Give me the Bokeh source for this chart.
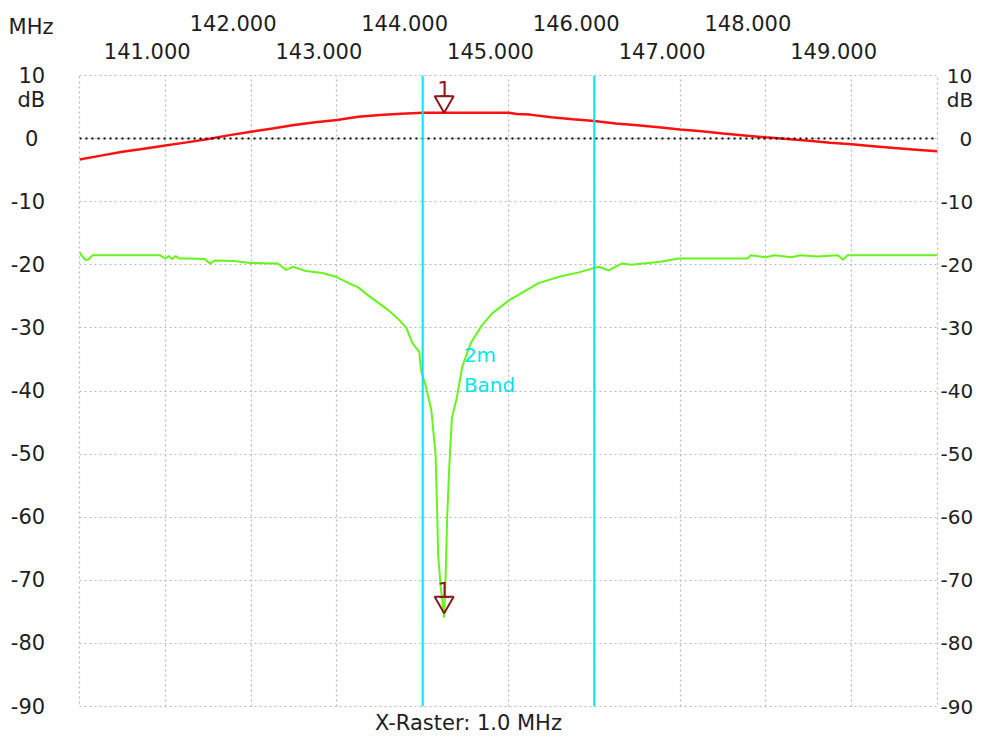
from bokeh.plotting import figure
from bokeh.models import (LinearAxis, FixedTicker, PrintfTickFormatter, Range1d,
                          Span)
from bokeh.embed import file_html
from bokeh.resources import INLINE
from bokeh.core.properties import value

# ---------------- data ----------------
red_f = [140.00, 140.25, 140.50, 140.75, 141.00, 141.25, 141.50, 141.75, 142.00,
         142.25, 142.50, 142.75, 143.00, 143.25, 143.50, 143.75, 144.00, 144.25,
         144.50, 144.75, 145.00, 145.10, 145.25, 145.50, 145.75, 146.00, 146.25,
         146.50, 146.75, 147.00, 147.25, 147.50, 147.75, 148.00, 148.25, 148.50,
         148.75, 149.00, 149.25, 149.50, 149.75, 150.00]
red_db = [-3.3, -2.7, -2.1, -1.6, -1.1, -0.6, -0.05, 0.55, 1.1,
          1.6, 2.15, 2.6, 2.95, 3.45, 3.75, 3.95, 4.1, 4.1,
          4.1, 4.1, 4.1, 3.9, 3.8, 3.4, 3.05, 2.8, 2.4,
          2.1, 1.8, 1.45, 1.15, 0.8, 0.5, 0.2, -0.05, -0.35,
          -0.65, -0.9, -1.2, -1.5, -1.75, -2.0]

green_f = [140.00, 140.03, 140.07, 140.10, 140.15, 140.94, 141.00, 141.04, 141.08,
           141.12, 141.16, 141.27, 141.46, 141.52, 141.58, 141.80, 141.99, 142.31,
           142.41, 142.49, 142.64, 142.83, 142.99, 143.15, 143.24, 143.38, 143.50,
           143.61, 143.73, 143.81, 143.88, 143.96, 143.98, 144.04, 144.10, 144.15,
           144.17, 144.18, 144.21, 144.25, 144.27, 144.285, 144.31, 144.34, 144.40,
           144.46, 144.56, 144.69, 144.81, 145.01, 145.35, 145.59, 145.82, 146.05,
           146.17, 146.25, 146.32, 146.43, 146.77, 146.98, 147.79, 147.82, 148.00,
           148.10, 148.30, 148.40, 148.60, 148.84, 148.90, 148.95, 150.00]
green_db = [-18.0, -18.6, -19.2, -19.2, -18.5, -18.5, -19.0, -18.6, -19.1,
            -18.6, -19.0, -19.0, -19.1, -19.8, -19.3, -19.4, -19.7, -19.8,
            -20.8, -20.3, -21.0, -21.3, -21.9, -23.0, -23.5, -25.0, -26.2,
            -27.3, -28.8, -30.0, -32.4, -33.8, -36.7, -39.4, -43.0, -50.0,
            -60.0, -66.0, -71.0, -75.9, -68.0, -60.0, -52.0, -44.3, -40.9,
            -36.2, -32.4, -29.6, -27.7, -25.6, -22.9, -21.9, -21.2, -20.3,
            -20.9, -20.3, -19.8, -20.0, -19.5, -19.0, -19.0, -18.5, -18.8,
            -18.5, -18.8, -18.5, -18.7, -18.5, -19.2, -18.5, -18.5]

band_edges = [144.0, 146.0]
band_text = ["2m", "Band"]
marker_f = [144.25, 144.25]
marker_db = [4.1, -75.2]
marker_text = ["1", "1"]

freq_odd = [141, 143, 145, 147, 149]
freq_even = [142, 144, 146, 148]
grid_f = list(range(140, 151))
db_ticks = list(range(-90, 11, 10))
x_unit = "MHz"
y_unit = "dB"
raster_text = "X-Raster: 1.0 MHz"

# ---------------- figure ----------------
W, H = 976, 737
ML, MR, MT, MB = 79, 36, 75, 30
FONT = "DejaVu Sans"
TXT = "#1e1e1e"
FS = "21px"

p = figure(width=W, height=H, x_range=(140, 150), y_range=(-90, 10),
           x_axis_location=None, y_axis_location=None,
           output_backend="svg", toolbar_location=None,
           min_border_left=ML, min_border_right=MR,
           min_border_top=MT, min_border_bottom=MB)
p.background_fill_color = "white"
p.border_fill_color = "white"
p.outline_line_color = "#b8b8b8"
p.outline_line_dash = "2 3"
p.outline_line_width = 1.2

frame_h = H - MT - MB
px_per_db = frame_h / 100.0

p.xgrid.ticker = FixedTicker(ticks=grid_f)
p.ygrid.ticker = FixedTicker(ticks=db_ticks)
p.grid.grid_line_color = "#b8b8b8"
p.grid.grid_line_dash = "2 3"
p.grid.grid_line_width = 1.2

# label offset range for the frequency captions
shift = 0.21
p.extra_x_ranges = {"lab": Range1d(140 + shift, 150 + shift)}

def style_axis(ax, standoff, fs=FS):
    ax.axis_line_color = None
    ax.major_tick_line_color = None
    ax.minor_tick_line_color = None
    ax.major_tick_in = 0
    ax.major_tick_out = 0
    ax.minor_tick_in = 0
    ax.minor_tick_out = 0
    ax.major_label_standoff = standoff
    ax.major_label_text_font = FONT
    ax.major_label_text_font_size = fs
    ax.major_label_text_color = TXT

ax_odd = LinearAxis(x_range_name="lab", ticker=FixedTicker(ticks=freq_odd),
                    formatter=PrintfTickFormatter(format="%.3f"))
style_axis(ax_odd, 17)
p.add_layout(ax_odd, "above")
ax_even = LinearAxis(x_range_name="lab", ticker=FixedTicker(ticks=freq_even),
                     formatter=PrintfTickFormatter(format="%.3f"))
style_axis(ax_even, 9)
p.add_layout(ax_even, "above")

# left dB axis (unit captions stacked with the top tick label)
pad = "\u2009\u2009"
left_over = {}
for t in db_ticks:
    left_over[t] = str(t) + pad
left_over[0] = "0\u2008" + pad
left_over[10] = "\n".join([x_unit, "\u2009", "10" + pad, y_unit + pad, "\u2009"])
ax_l = LinearAxis(ticker=FixedTicker(ticks=db_ticks),
                  major_label_overrides=left_over)
style_axis(ax_l, 26)
ax_l.major_label_text_line_height = 1.02
p.add_layout(ax_l, "left")

right_over = {}
for t in db_ticks:
    right_over[t] = str(t)
right_over[0] = "\u2007\u20080"
right_over[10] = "\n".join(["\u2009", "\u200810", "\u2008" + y_unit])
ax_r = LinearAxis(ticker=FixedTicker(ticks=db_ticks),
                  major_label_overrides=right_over)
style_axis(ax_r, 3, "20px")
ax_r.major_label_text_line_height = 1.02
p.add_layout(ax_r, "right")

# bottom caption as an axis title (padded to sit left of centre)
ax_b = LinearAxis(ticker=FixedTicker(ticks=[]),
                  axis_label=raster_text + "\u2007" * 6)
style_axis(ax_b, 0)
ax_b.axis_label_standoff = 4
ax_b.axis_label_text_font = FONT
ax_b.axis_label_text_font_size = FS
ax_b.axis_label_text_font_style = "normal"
ax_b.axis_label_text_color = TXT
p.add_layout(ax_b, "below")

# zero line
p.add_layout(Span(location=0, dimension="width", line_color="black",
                  line_dash="2 4", line_width=2))

# band edges
for e in band_edges:
    p.add_layout(Span(location=e, dimension="height", line_color="#00e5f2",
                      line_width=2))

# curves
p.line(red_f, red_db, line_color="#ff1010", line_width=2.5)
p.line(green_f, green_db, line_color="#66f51a", line_width=2)

# band text
p.text(x=[144.48, 144.48], y=[-34.3, -39.05], text=band_text,
       text_color="#00e5ee", text_font=value(FONT), text_font_size="20px",
       text_align="left", text_baseline="alphabetic")

# markers
tri_size = 19
tri_h = tri_size / 2 * 3 ** 0.5
mk_y = [v + (2 * tri_h / 3) / px_per_db for v in marker_db]
txt_y = [v + (tri_h + 7) / px_per_db for v in marker_db]
p.scatter(marker_f, mk_y, marker="inverted_triangle", size=tri_size,
          fill_color=None, line_color="#8b1a1a", line_width=2)
p.text(x=marker_f, y=txt_y, text=marker_text, text_color="#8b1a1a",
       text_font=value(FONT), text_font_size="22px", text_align="center",
       text_baseline="alphabetic")

open("out.html", "w").write(file_html(p, INLINE))
